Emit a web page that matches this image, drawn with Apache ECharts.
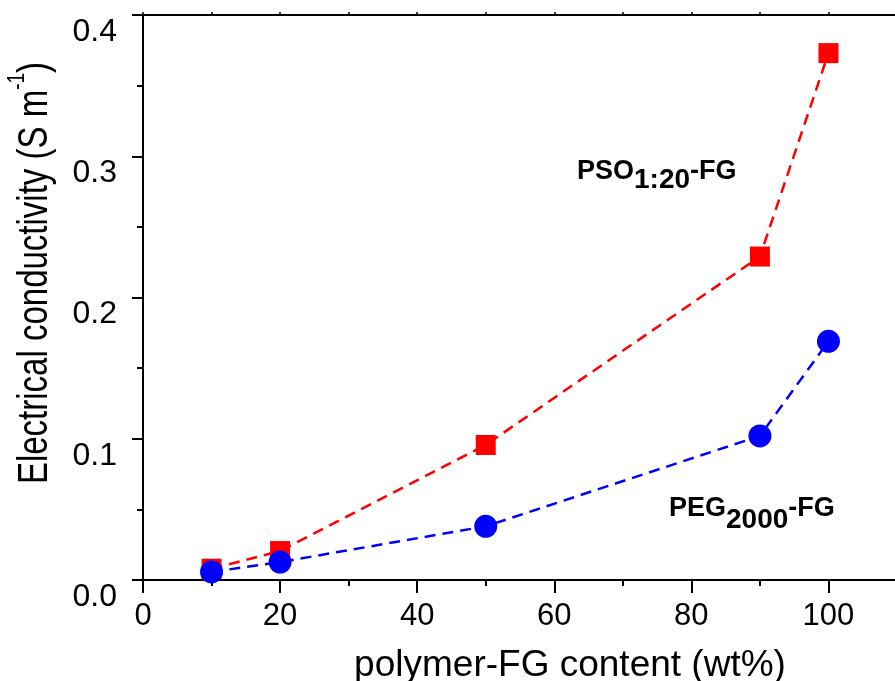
<!DOCTYPE html>
<html>
<head>
<meta charset="utf-8">
<script src="https://cdn.jsdelivr.net/npm/echarts@6/dist/echarts.min.js"></script>
<style>
html,body{margin:0;padding:0;background:#fff;}
#chart{width:895px;height:681px;}
</style>
</head>
<body>
<div id="chart"></div>
<script>
// Data
const xValues = [10, 20, 50, 90, 100];
const psoValues = [0.008, 0.0205, 0.0956, 0.229, 0.373];
const pegValues = [0.0057, 0.0127, 0.038, 0.102, 0.169];
const psoName = 'PSO1:20-FG';
const pegName = 'PEG2000-FG';
const psoParts = ['PSO', '1:20', '-FG'];
const pegParts = ['PEG', '2000', '-FG'];
const xTitle = 'polymer-FG content (wt%)';
const yTitleMain = 'Electrical conductivity (S m';
const yTitleSup = '-1';

const FONT = '"Liberation Sans", Arial, sans-serif';
const chart = echarts.init(document.getElementById('chart'), null, {renderer: 'canvas'});

const pairs = (vals) => xValues.map((x, i) => [x, vals[i]]);

// text measuring for the subscript annotations
const mctx = document.createElement('canvas').getContext('2d');
function tw(text, size) {
  mctx.font = 'bold ' + size + 'px ' + FONT;
  return mctx.measureText(text).width;
}
const MAIN = 27, SUB = 28;
function subLabel(parts, left, mainTop, subTop) {
  const w0 = tw(parts[0], MAIN), w1 = tw(parts[1], SUB);
  const st = (size) => ({fontSize: size, fontWeight: 'bold', fontFamily: FONT, fill: '#000'});
  return [
    {type: 'text', left: left, top: mainTop, z: 10, style: Object.assign({text: parts[0]}, st(MAIN))},
    {type: 'text', left: left + w0, top: subTop, z: 10, style: Object.assign({text: parts[1]}, st(SUB))},
    {type: 'text', left: left + w0 + w1, top: mainTop, z: 10, style: Object.assign({text: parts[2]}, st(MAIN))}
  ];
}

const option = {
  backgroundColor: '#fff',
  animation: false,
  grid: {left: 143, top: 15, right: -2, bottom: 101, containLabel: false, outerBoundsMode: 'none'},
  xAxis: [
    {
      type: 'value', position: 'bottom', min: 0, max: 110, interval: 20,
      axisLine: {show: true, onZero: false, lineStyle: {color: '#000', width: 2}},
      axisTick: {show: true, inside: false, length: 13, lineStyle: {color: '#000', width: 2}},
      axisLabel: {
        show: true, margin: 21, color: '#000', fontSize: 31, fontFamily: FONT,
        formatter: (v) => (v > 100 ? '' : String(v))
      },
      splitLine: {show: false},
      name: xTitle, nameLocation: 'middle', nameGap: 67,
      nameTextStyle: {color: '#000', fontSize: 37, fontFamily: FONT, padding: [0, 0, 0, 100]}
    },
    {
      type: 'value', position: 'bottom', min: 0, max: 110, interval: 10,
      axisLine: {show: false},
      axisTick: {show: true, inside: false, length: 6, lineStyle: {color: '#000', width: 2}},
      axisLabel: {show: false},
      splitLine: {show: false}
    },
    {
      type: 'value', position: 'top', min: 0, max: 110, interval: 10,
      axisLine: {show: true, onZero: false, lineStyle: {color: '#000', width: 2}},
      axisTick: {show: true, inside: false, length: 3, lineStyle: {color: '#000', width: 1.5}},
      axisLabel: {show: false},
      splitLine: {show: false}
    }
  ],
  yAxis: [
    {
      type: 'value', position: 'left', min: 0, max: 0.4, interval: 0.1,
      axisLine: {show: true, onZero: false, lineStyle: {color: '#000', width: 2}},
      axisTick: {show: true, inside: false, length: 11, lineStyle: {color: '#000', width: 2}},
      minorTick: {show: true, splitNumber: 2, length: 6, lineStyle: {color: '#000', width: 2}},
      axisLabel: {
        show: true, margin: 26, color: '#000', fontSize: 32, fontFamily: FONT,
        verticalAlign: 'top', lineHeight: 34,
        formatter: (v) => v.toFixed(1)
      },
      splitLine: {show: false}
    }
  ],
  series: [
    {
      name: psoName, type: 'line', xAxisIndex: 0, yAxisIndex: 0,
      data: pairs(psoValues),
      symbol: 'rect', symbolSize: 20,
      itemStyle: {color: '#ff0000'},
      lineStyle: {color: '#ff0000', width: 2.5, type: [11, 7]},
      z: 2
    },
    {
      name: pegName, type: 'line', xAxisIndex: 0, yAxisIndex: 0,
      data: pairs(pegValues),
      symbol: 'circle', symbolSize: 23,
      itemStyle: {color: '#0000ff'},
      lineStyle: {color: '#0000ff', width: 2.5, type: [11, 7]},
      z: 3
    }
  ],
  graphic: [].concat(
    [{
      type: 'text', x: 31, y: 273, rotation: Math.PI / 2, scaleY: 1.3, z: 10,
      style: {
        text: '{a|' + yTitleMain + '}{s|' + yTitleSup + '}{a|)}',
        align: 'center', verticalAlign: 'middle',
        rich: {
          a: {fontSize: 33, fontFamily: FONT, fill: '#000', lineHeight: 40, verticalAlign: 'bottom'},
          s: {fontSize: 19, fontFamily: FONT, fill: '#000', lineHeight: 40, verticalAlign: 'top'}
        }
      }
    }],
    subLabel(psoParts, 577, 158, 166),
    subLabel(pegParts, 669, 495, 506)
  )
};
chart.setOption(option);
</script>
</body>
</html>
